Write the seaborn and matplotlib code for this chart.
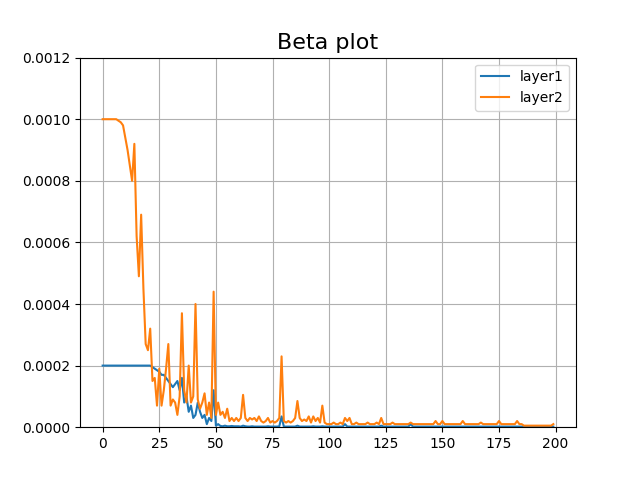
import matplotlib
matplotlib.use("Agg")
import matplotlib.pyplot as plt
import seaborn as sns
import numpy as np

# values in units of 1e-4, one per epoch 0..199
layer1 = [
    2.0, 2.0, 2.0, 2.0, 2.0, 2.0, 2.0, 2.0, 2.0, 2.0,
    2.0, 2.0, 2.0, 2.0, 2.0, 2.0, 2.0, 2.0, 2.0, 2.0,
    2.0, 2.0, 1.95, 1.9, 1.85, 1.8, 1.7, 1.7, 1.6, 1.5,
    1.4, 1.3, 1.4, 1.5, 1.2, 1.6, 0.8, 1.0, 0.5, 0.7,
    0.3, 0.4, 0.8, 0.5, 0.3, 0.4, 0.1, 0.3, 0.2, 1.2,
    0.05, 0.1, 0.04, 0.03, 0.05, 0.03, 0.03, 0.04, 0.03, 0.03,
    0.03, 0.02, 0.05, 0.03, 0.02, 0.02, 0.03, 0.02, 0.02, 0.02,
    0.02, 0.02, 0.02, 0.03, 0.02, 0.02, 0.02, 0.02, 0.03, 0.35,
    0.02, 0.02, 0.02, 0.02, 0.02, 0.02, 0.05, 0.02, 0.02, 0.02,
    0.02, 0.02, 0.02, 0.03, 0.02, 0.02, 0.02, 0.03, 0.02, 0.02,
    0.02, 0.02, 0.02, 0.02, 0.02, 0.02, 0.02, 0.1, 0.02, 0.02,
    0.02, 0.02, 0.02, 0.02, 0.02, 0.02, 0.02, 0.02, 0.02, 0.02,
    0.02, 0.02, 0.02, 0.05, 0.02, 0.02, 0.02, 0.02, 0.02, 0.02,
    0.02, 0.02, 0.02, 0.02, 0.02, 0.02, 0.1, 0.02, 0.02, 0.02,
    0.02, 0.02, 0.02, 0.02, 0.02, 0.02, 0.02, 0.02, 0.02, 0.02,
    0.02, 0.02, 0.02, 0.02, 0.02, 0.02, 0.02, 0.02, 0.02, 0.02,
    0.02, 0.02, 0.02, 0.02, 0.02, 0.02, 0.02, 0.02, 0.02, 0.02,
    0.02, 0.02, 0.02, 0.02, 0.02, 0.02, 0.02, 0.02, 0.02, 0.02,
    0.02, 0.02, 0.02, 0.02, 0.02, 0.02, 0.02, 0.02, 0.02, 0.02,
    0.02, 0.02, 0.02, 0.02, 0.02, 0.02, 0.02, 0.02, 0.02, 0.02,
]
layer2 = [
    10.0, 10.0, 10.0, 10.0, 10.0, 10.0, 10.0, 9.95, 9.9, 9.8,
    9.4, 9.0, 8.5, 8.0, 9.2, 6.2, 4.9, 6.9, 4.5, 2.7,
    2.5, 3.2, 1.5, 1.6, 0.7, 1.9, 0.7, 1.2, 1.9, 2.7,
    0.7, 0.9, 0.8, 0.4, 1.0, 3.7, 1.2, 0.8, 2.0, 0.8,
    1.0, 4.0, 0.9, 0.6, 0.8, 1.1, 0.4, 0.8, 0.3, 4.4,
    0.4, 0.8, 0.4, 0.5, 0.3, 0.6, 0.2, 0.3, 0.2, 0.3,
    0.2, 0.3, 1.05, 0.3, 0.2, 0.3, 0.25, 0.3, 0.2, 0.35,
    0.2, 0.15, 0.2, 0.3, 0.15, 0.2, 0.15, 0.2, 0.3, 2.3,
    0.2, 0.15, 0.2, 0.15, 0.2, 0.3, 0.85, 0.3, 0.2, 0.25,
    0.2, 0.35, 0.15, 0.35, 0.2, 0.3, 0.15, 0.7, 0.15, 0.1,
    0.1, 0.1, 0.15, 0.1, 0.1, 0.15, 0.1, 0.3, 0.2, 0.3,
    0.1, 0.1, 0.15, 0.1, 0.1, 0.1, 0.1, 0.15, 0.1, 0.1,
    0.1, 0.15, 0.1, 0.3, 0.1, 0.1, 0.1, 0.1, 0.15, 0.1,
    0.1, 0.1, 0.1, 0.1, 0.1, 0.1, 0.15, 0.1, 0.1, 0.1,
    0.1, 0.1, 0.1, 0.1, 0.1, 0.1, 0.1, 0.2, 0.1, 0.1,
    0.2, 0.1, 0.1, 0.1, 0.1, 0.1, 0.1, 0.1, 0.1, 0.2,
    0.1, 0.1, 0.1, 0.1, 0.1, 0.1, 0.1, 0.15, 0.1, 0.1,
    0.1, 0.1, 0.1, 0.1, 0.1, 0.2, 0.1, 0.1, 0.1, 0.1,
    0.1, 0.1, 0.1, 0.2, 0.1, 0.1, 0.05, 0.05, 0.05, 0.05,
    0.05, 0.05, 0.05, 0.05, 0.05, 0.05, 0.05, 0.05, 0.05, 0.1,
]
epochs = np.arange(len(layer1))

fig, ax = plt.subplots(figsize=(6.4, 4.8), dpi=100)
sns.lineplot(x=epochs, y=np.array(layer1) * 1e-4, ax=ax, label="layer1", color="#1f77b4")
sns.lineplot(x=epochs, y=np.array(layer2) * 1e-4, ax=ax, label="layer2", color="#ff7f0e")
ax.set_ylim(0, 0.0012)
ax.set_xlim(-10, 209)
ax.set_xticks(range(0, 201, 25))
ax.grid(True, color="#b0b0b0")
ax.set_title("Beta plot", fontsize=16)
ax.legend(loc="upper right")
fig.savefig("out.png")
